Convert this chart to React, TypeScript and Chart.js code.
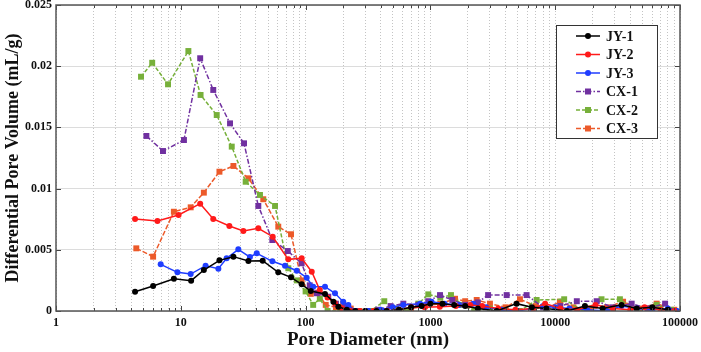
import React, { useEffect, useRef } from "react";
import { Chart, registerables } from "chart.js";

Chart.register(...registerables);

// ---- Data (pore diameter nm, differential pore volume mL/g) ----
const jy1X = [4.3, 6.0, 8.8, 12.1, 15.3, 20.4, 26.4, 34.8, 45.3, 60.4, 76.4, 93, 110, 143, 167, 183, 214, 250, 300, 370, 446, 560, 700, 850, 1000, 1250, 1550, 1900, 2400, 3400, 4900, 6500, 8500, 12400, 17300, 24000, 34000, 45000, 60000, 80000];
const jy1Y = [0.00158, 0.00204, 0.00264, 0.00248, 0.00335, 0.00414, 0.00444, 0.00408, 0.00411, 0.00316, 0.00275, 0.00218, 0.00163, 0.00139, 0.00076, 0.00035, 0.0001, 0, 0, 0, 0, 0.0001, 0.0003, 0.0004, 0.0006, 0.0006, 0.0005, 0.0004, 0.0002, 0, 0.0006, 0.0003, 0.0002, 0, 0.0004, 0.0002, 0.0005, 0.0002, 0.0003, 0.0001];

const jy2X = [4.3, 6.5, 9.6, 14.3, 18.2, 24.5, 31.7, 41.8, 54.5, 72.7, 93, 112, 130, 150, 172, 195, 230, 270, 350, 450, 560, 700, 900, 1190, 1600, 2080, 2600, 3500, 4800, 6700, 8300, 11000, 15000, 21000, 29000, 40000, 52000, 70000, 90000];
const jy2Y = [0.00752, 0.00735, 0.00784, 0.00877, 0.00752, 0.00694, 0.00654, 0.00676, 0.00607, 0.00422, 0.0043, 0.00321, 0.00172, 0.0011, 0.00063, 0.00022, 0, 0, 0, 0, 0.0001, 0.0003, 0.0003, 0.00035, 0.0004, 0.0005, 0.0004, 0.0002, 0.0001, 0.0002, 0.0006, 0.0002, 0.0001, 0.0005, 0.0002, 0.0001, 0.0003, 0.0001, 0];

const jy3X = [6.9, 9.4, 12.0, 15.8, 20, 23.3, 28.9, 35.8, 40.6, 54.2, 68.4, 84.9, 102, 115, 143, 172, 200, 220, 250, 320, 400, 500, 607, 826, 1020, 1300, 1700, 2200, 2800, 3700, 5000, 6500, 8000, 10000, 13000, 18000, 26000, 34000, 45000, 60000, 80000, 95000];
const jy3Y = [0.00381, 0.00316, 0.00302, 0.0037, 0.00346, 0.0043, 0.00504, 0.00441, 0.00471, 0.00406, 0.0037, 0.00329, 0.00272, 0.00199, 0.00199, 0.00145, 0.00076, 0.00049, 0, 0, 0.0001, 0.0003, 0.0005, 0.0006, 0.00076, 0.0006, 0.0005, 0.0006, 0.0003, 0.0001, 0, 0.0002, 0.0004, 0.0003, 0.0002, 0.0001, 0, 0.0004, 0.0002, 0.0001, 0.0002, 0];

const cx1X = [5.3, 7.2, 10.6, 14.3, 18.2, 24.8, 32.1, 41.8, 54.1, 72, 93, 108, 123, 152, 175, 207, 250, 310, 380, 480, 607, 800, 960, 1194, 1500, 1900, 2400, 2900, 4085, 5900, 8000, 11000, 14900, 21500, 29000, 41000, 55000, 76000, 90000];
const cx1Y = [0.0143, 0.01307, 0.01397, 0.02065, 0.01806, 0.01533, 0.0137, 0.00858, 0.0058, 0.0049, 0.0039, 0.0021, 0.00145, 0.00117, 0.0006, 0.00035, 0, 0, 0.0001, 0.0004, 0.0006, 0.0005, 0.0008, 0.0013, 0.0009, 0.0005, 0.0007, 0.0013, 0.0013, 0.0013, 0.0003, 0.0004, 0.0008, 0.0008, 0.0003, 0.0006, 0.0002, 0.0006, 0];

const cx2X = [4.8, 5.9, 7.9, 11.5, 14.4, 19.4, 25.6, 33.1, 43.1, 56.9, 72.7, 85, 100, 115, 130, 150, 190, 260, 330, 427, 530, 650, 800, 962, 1200, 1462, 1800, 2250, 3000, 4000, 5200, 7100, 11800, 16800, 23500, 33000, 45000, 65000, 85000];
const cx2Y = [0.01914, 0.02028, 0.01852, 0.02124, 0.01765, 0.01601, 0.01343, 0.01056, 0.00948, 0.00858, 0.00349, 0.0025, 0.0016, 0.0005, 0.001, 0, 0, 0, 0, 0.0008, 0.0002, 0, 0.0006, 0.00136, 0.0011, 0.0013, 0.0005, 0, 0.0002, 0, 0, 0.0009, 0.00096, 0, 0.00096, 0.00096, 0, 0.0005, 0.0001];

const cx3X = [4.4, 6.0, 8.8, 12, 15.3, 20.4, 26.4, 34.8, 45.8, 60.4, 76.4, 93, 110, 125, 145, 175, 200, 230, 270, 340, 430, 540, 700, 900, 1200, 1575, 1900, 2350, 3000, 4000, 5220, 7000, 8500, 10900, 14000, 19000, 26000, 35000, 47000, 65000, 90000];
const cx3Y = [0.00512, 0.00444, 0.00811, 0.00847, 0.00967, 0.01138, 0.01185, 0.01084, 0.00913, 0.00689, 0.00627, 0.0025, 0.0014, 0.0015, 0.0005, 0.0003, 0.0006, 0.0002, 0, 0, 0, 0, 0.0002, 0.0004, 0.0006, 0.001, 0.0008, 0.0009, 0.0006, 0.0003, 0.00096, 0.0004, 0.0002, 0.00076, 0.0003, 0.0002, 0.0003, 0.00076, 0.0002, 0.0006, 0.0001];

const seriesNames = ["JY-1", "JY-2", "JY-3", "CX-1", "CX-2", "CX-3"];
const seriesX = [jy1X, jy2X, jy3X, cx1X, cx2X, cx3X];
const seriesY = [jy1Y, jy2Y, jy3Y, cx1Y, cx2Y, cx3Y];
const seriesColors = ["#000000", "#ff1a1a", "#1f3dff", "#7030a0", "#77b03a", "#ec5a2a"];
const seriesDash: number[][] = [[], [], [], [5, 2, 1.5, 2], [4, 2], [5, 2]];
const seriesMarker = ["circle", "circle", "circle", "rect", "rect", "rect"];

const xDecades = [1, 10, 100, 1000, 10000, 100000];
const yTicks = [0, 0.005, 0.01, 0.015, 0.02, 0.025];

const SERIF = "'Liberation Serif', 'DejaVu Serif', serif";

function isPow10(v: number) {
  const l = Math.log10(v);
  return Math.abs(l - Math.round(l)) < 1e-9;
}

const framePlugin = {
  id: "frameAndLegend",
  afterDatasetsDraw(chart: any) {
    const { ctx, chartArea: a, scales } = chart;
    const xs = scales.x;
    const ys = scales.y;
    ctx.save();
    ctx.strokeStyle = "#444";
    ctx.lineWidth = 1;
    ctx.setLineDash([]);
    const line = (x1: number, y1: number, x2: number, y2: number) => {
      ctx.beginPath();
      ctx.moveTo(x1, y1);
      ctx.lineTo(x2, y2);
      ctx.stroke();
    };
    xs.ticks.forEach((t: any) => {
      const px = Math.round(xs.getPixelForValue(t.value)) + 0.5;
      const len = isPow10(t.value) ? 5 : 3;
      line(px, a.bottom, px, a.bottom - len);
      line(px, a.top, px, a.top + len);
    });
    ys.ticks.forEach((t: any) => {
      const py = Math.round(ys.getPixelForValue(t.value)) + 0.5;
      line(a.left, py, a.left + 5, py);
      line(a.right, py, a.right - 5, py);
    });
    ctx.lineWidth = 1.5;
    ctx.strokeStyle = "#555";
    ctx.strokeRect(a.left, a.top, a.right - a.left, a.bottom - a.top);

    // legend
    const bx = a.right - 124;
    const by = a.top + 20;
    const bw = 101;
    const bh = 113;
    ctx.fillStyle = "#ffffff";
    ctx.fillRect(bx, by, bw, bh);
    ctx.lineWidth = 1;
    ctx.strokeStyle = "#333";
    ctx.strokeRect(bx + 0.5, by + 0.5, bw, bh);
    ctx.font = `bold 14px ${SERIF}`;
    ctx.textBaseline = "middle";
    ctx.textAlign = "left";
    seriesNames.forEach((name, i) => {
      const cy = by + 11 + i * 18.5;
      ctx.strokeStyle = seriesColors[i];
      ctx.lineWidth = 1.5;
      ctx.setLineDash(seriesDash[i]);
      line(bx + 20, cy, bx + 44, cy);
      ctx.setLineDash([]);
      ctx.fillStyle = seriesColors[i];
      if (seriesMarker[i] === "circle") {
        ctx.beginPath();
        ctx.arc(bx + 32, cy, 3, 0, Math.PI * 2);
        ctx.fill();
      } else {
        ctx.fillRect(bx + 29, cy - 3, 6, 6);
      }
      ctx.fillStyle = "#111";
      ctx.fillText(name, bx + 50, cy + 1);
    });
    ctx.restore();
  },
};

export default function App() {
  const canvasRef = useRef<HTMLCanvasElement | null>(null);

  useEffect(() => {
    const canvas = canvasRef.current;
    if (!canvas) return;
    const datasets = seriesNames.map((name, i) => ({
      label: name,
      data: seriesX[i].map((x, k) => ({ x, y: seriesY[i][k] })),
      borderColor: seriesColors[i],
      backgroundColor: seriesColors[i],
      borderWidth: 1.5,
      borderDash: seriesDash[i],
      pointStyle: seriesMarker[i] as any,
      pointRadius: seriesMarker[i] === "circle" ? 3 : 4.2,
      pointBorderWidth: 0,
      pointBackgroundColor: seriesColors[i],
      tension: 0,
      fill: false,
    }));

    const chart = new Chart(canvas, {
      type: "line",
      data: { datasets },
      plugins: [framePlugin],
      options: {
        animation: false,
        responsive: false,
        maintainAspectRatio: false,
        layout: { padding: { top: 5, right: 21, left: 0, bottom: 0 } },
        plugins: {
          legend: { display: false },
          tooltip: { enabled: false },
        },
        scales: {
          x: {
            type: "logarithmic",
            min: 1,
            max: 100000,
            afterBuildTicks: (scale: any) => {
              const ticks: any[] = [];
              xDecades.forEach((d, i) => {
                if (i === xDecades.length - 1) {
                  ticks.push({ value: d });
                } else {
                  for (let m = 1; m <= 9; m++) ticks.push({ value: d * m });
                }
              });
              scale.ticks = ticks;
            },
            afterFit: (scale: any) => {
              scale.height = 41;
              scale.paddingLeft = 0;
              scale.paddingRight = 0;
            },
            ticks: {
              autoSkip: false,
              maxRotation: 0,
              padding: 5,
              color: "#111",
              font: { family: SERIF, size: 12, weight: "bold" },
              callback: (v: any) => (isPow10(Number(v)) ? String(Math.round(Number(v))) : ""),
            },
            grid: { color: "#c4c4c4", lineWidth: 1, drawTicks: false },
            border: { display: false, dash: [1, 2] },
            title: {
              display: true,
              text: "Pore Diameter (nm)",
              color: "#111",
              font: { family: SERIF, size: 19, weight: "bold" },
              padding: { top: 0, bottom: 1 },
            },
          },
          y: {
            type: "linear",
            min: 0,
            max: 0.025,
            afterBuildTicks: (scale: any) => {
              scale.ticks = yTicks.map((v) => ({ value: v }));
            },
            afterFit: (scale: any) => {
              scale.width = 56;
              scale.paddingTop = 0;
              scale.paddingBottom = 0;
            },
            ticks: {
              padding: 4,
              color: "#111",
              font: { family: SERIF, size: 12, weight: "bold" },
              callback: (v: any) => String(parseFloat(Number(v).toFixed(3))),
            },
            grid: { color: "#dcdcdc", lineWidth: 1, drawTicks: false },
            border: { display: false },
            title: {
              display: true,
              text: "Differential Pore Volume (mL/g)",
              color: "#111",
              font: { family: SERIF, size: 18, weight: "bold" },
              padding: { top: 3, bottom: 0 },
            },
          },
        },
      },
    });
    return () => chart.destroy();
  }, []);

  return (
    <div style={{ position: "absolute", left: 0, top: 0, width: 701, height: 352, background: "#fff" }}>
      <canvas ref={canvasRef} width={701} height={352} style={{ width: 701, height: 352, display: "block" }} />
    </div>
  );
}
